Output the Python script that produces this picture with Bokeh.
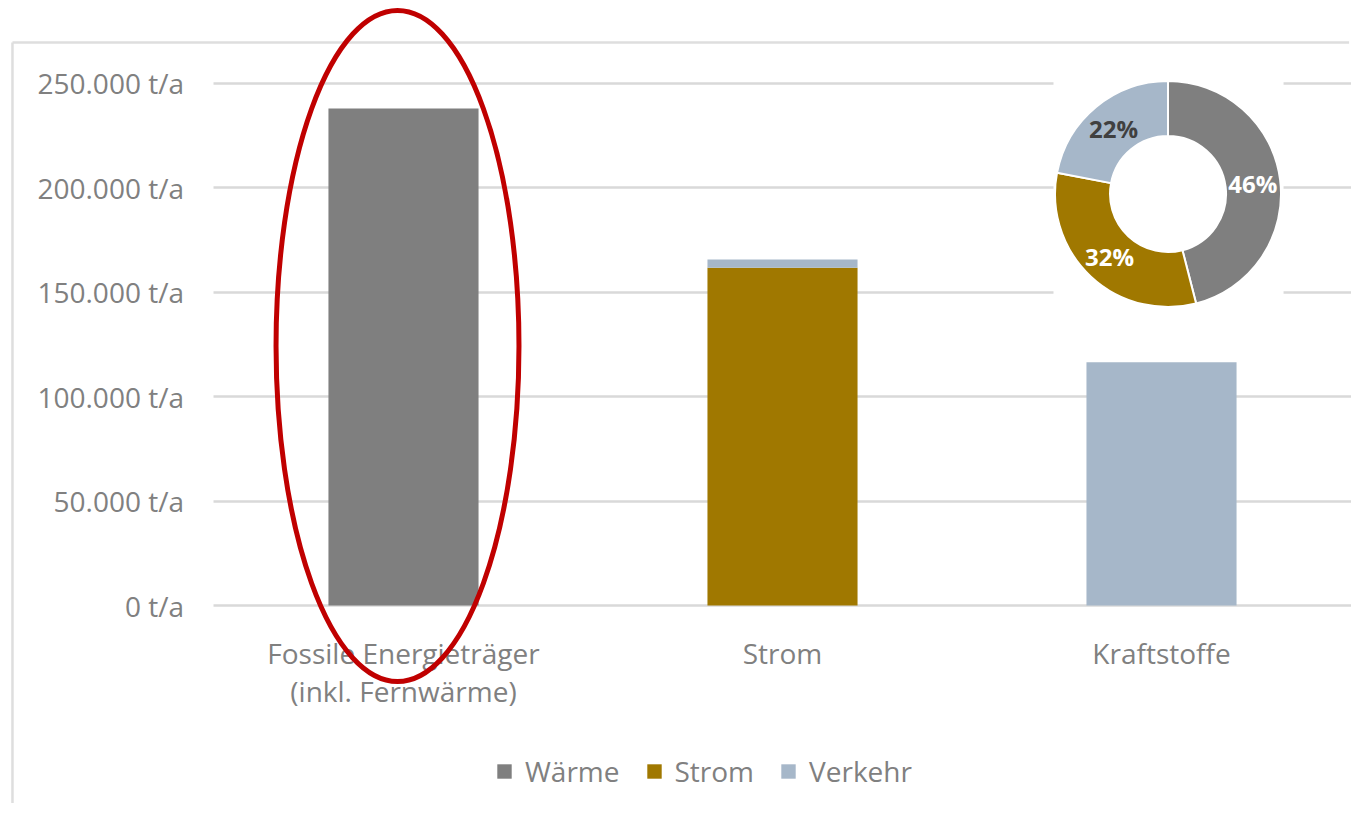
import numpy as np
from bokeh.plotting import figure
from bokeh.models import Legend, LegendItem, FixedTicker, ColumnDataSource, Range1d
from bokeh.core.properties import value
from bokeh.embed import file_html
from bokeh.resources import INLINE

# ---------------- data ----------------
categories = ["Fossile Energieträger\n(inkl. Fernwärme)", "Strom", "Kraftstoffe"]
series = ["Wärme", "Strom", "Verkehr"]
waerme = [237800, 0, 0]
strom = [0, 161600, 0]
verkehr = [0, 4000, 116400]
colors = ["#7f7f7f", "#a07800", "#a6b7c9"]

pie_labels = ["46%", "32%", "22%"]
pie_shares = [46, 32, 22]
pie_label_colors = ["#ffffff", "#ffffff", "#404040"]

y_ticks = [0, 50000, 100000, 150000, 200000, 250000]
y_tick_labels = ["0 t/a", "50.000 t/a", "100.000 t/a", "150.000 t/a", "200.000 t/a", "250.000 t/a"]

FONT = "Open Sans"
TXT = "#808080"
FS = "28px"

xs = list(range(len(categories)))

p = figure(width=1351, height=806, output_backend="svg", toolbar_location=None,
           x_range=Range1d(-1.0633, 2.5013), y_range=Range1d(-96172, 289474))
p.min_border = 0
p.min_border_left = 0
p.min_border_right = 0
p.min_border_top = 0
p.min_border_bottom = 0
p.outline_line_color = None
p.outline_line_alpha = 0
p.background_fill_color = "white"
p.border_fill_color = "white"

# grid
p.xgrid.grid_line_color = None
p.ygrid.ticker = FixedTicker(ticks=y_ticks)
p.ygrid.grid_line_color = "#d9d9d9"
p.ygrid.grid_line_width = 2.5
try:
    p.ygrid.cross_bounds = (-0.5, 2.5)
except Exception:
    p.ygrid.grid_line_color = None
    p.segment(x0=[-0.5] * len(y_ticks), x1=[2.5] * len(y_ticks), y0=y_ticks, y1=y_ticks,
              line_color="#d9d9d9", line_width=2.5, level="underlay")

# y axis
p.yaxis.fixed_location = -0.5
p.yaxis.ticker = FixedTicker(ticks=y_ticks)
p.yaxis.major_label_overrides = {t: l for t, l in zip(y_ticks, y_tick_labels)}
p.yaxis.axis_line_color = None
p.yaxis.major_tick_line_color = None
p.yaxis.minor_tick_line_color = None
p.yaxis.major_tick_out = 0
p.yaxis.major_tick_in = 0
p.yaxis.major_label_standoff = 30
p.yaxis.major_label_text_font = FONT
p.yaxis.major_label_text_font_size = FS
p.yaxis.major_label_text_color = TXT

# x axis
p.xaxis.fixed_location = 0
p.xaxis.ticker = FixedTicker(ticks=xs)
p.xaxis.major_label_overrides = {i: c for i, c in zip(xs, categories)}
p.xaxis.axis_line_color = None
p.xaxis.major_tick_line_color = None
p.xaxis.minor_tick_line_color = None
p.xaxis.major_tick_out = 0
p.xaxis.major_tick_in = 0
p.xaxis.major_label_standoff = 28
p.xaxis.major_label_text_font = FONT
p.xaxis.major_label_text_font_size = FS
p.xaxis.major_label_text_color = TXT
p.xaxis.major_label_text_line_height = 1.0

# outer chart border (decorative; only its top and left edges are visible)
p.segment(x0=[-1.0317, -1.0317], y0=[269380, 269380], x1=[2.495, -1.0317], y1=[269380, -94500],
          line_color="#dedede", line_width=2.5, level="underlay")

# bars
src = ColumnDataSource(dict(x=xs, **{"Wärme": waerme, "Strom": strom, "Verkehr": verkehr}))
rs = p.vbar_stack(series, x="x", width=0.396, color=colors, source=src, line_color=None)

# donut (inset) background
p.quad(left=[1.715], right=[2.322], top=[259810], bottom=[137320],
       fill_color="white", line_color=None)

shares = np.array(pie_shares, dtype=float)
frac = shares / shares.sum()
cum = np.concatenate([[0], np.cumsum(frac)])
start = np.pi / 2 - 2 * np.pi * cum[:-1]
end = np.pi / 2 - 2 * np.pi * cum[1:]
cx, cy = 2.0172, 196890
R_OUT, R_IN = 113, 58
p.annular_wedge(x=[cx] * 3, y=[cy] * 3, inner_radius=R_IN, outer_radius=R_OUT,
                inner_radius_units="screen", outer_radius_units="screen",
                start_angle=list(start), end_angle=list(end), direction="clock",
                fill_color=colors, line_color="white", line_width=2)
mid = (start + end) / 2
rl = (R_OUT + R_IN) / 2
p.text(x=[cx] * 3, y=[cy] * 3, text=pie_labels,
       x_offset=list(rl * np.cos(mid)), y_offset=list(-rl * np.sin(mid)),
       text_color=pie_label_colors, text_font=value(FONT), text_font_style="bold",
       text_font_size="24px", text_align="center", text_baseline="middle")

# legend
legend = Legend(items=[LegendItem(label=s, renderers=[r]) for s, r in zip(series, rs)],
                orientation="horizontal", location=(495, 16),
                glyph_width=18, glyph_height=18, label_standoff=12, spacing=25,
                label_text_font=FONT, label_text_font_size=FS, label_text_color=TXT,
                border_line_color=None, background_fill_alpha=0, margin=0, padding=0)
p.add_layout(legend, "center")

# red highlight ellipse around first bar
p.ellipse(x=[-0.0158], y=[124163], width=0.641, height=321053,
          fill_color=None, line_color="#c00000", line_width=5, level="overlay")

open("out.html", "w").write(file_html(p, INLINE))
